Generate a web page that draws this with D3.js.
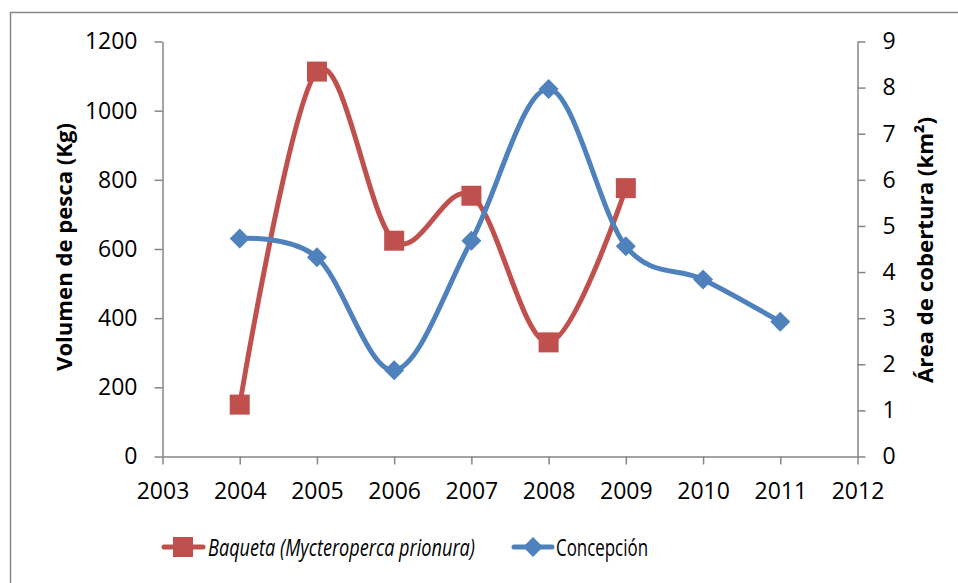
<!DOCTYPE html>
<html>
<head>
<meta charset="utf-8">
<script src="https://cdn.jsdelivr.net/npm/d3@7"></script>
<style>
  body { margin: 0; background: #fff; }
  svg text { font-family: "Open Sans", "Noto Sans", sans-serif; fill: #000; }
</style>
</head>
<body>
<div id="chart"></div>
<script>
// data
const years = [2004, 2005, 2006, 2007, 2008, 2009, 2010, 2011];
const baqueta = [150, 1113, 624, 754, 330, 776, null, null];       // Kg, left axis
const concepcion = [4.73, 4.32, 1.87, 4.68, 7.97, 4.56, 3.84, 2.92]; // km2, right axis
const xTicks = [2003, 2004, 2005, 2006, 2007, 2008, 2009, 2010, 2011, 2012];
const leftTicks = [0, 200, 400, 600, 800, 1000, 1200];
const rightTicks = [0, 1, 2, 3, 4, 5, 6, 7, 8, 9];
const seriesNames = ["Baqueta (Mycteroperca prionura)", "Concepción"];

const W = 958, H = 583;
const red = "#C0504D", blue = "#4F81BD", grey = "#868686";

const svg = d3.select("#chart").append("svg")
    .attr("width", W)
    .attr("height", H);

// outer chart border (runs off right / bottom edge)
svg.append("rect")
    .attr("x", 10.5).attr("y", 12.5)
    .attr("width", 960).attr("height", 600)
    .attr("fill", "none")
    .attr("stroke", grey)
    .attr("stroke-width", 1.5);

const x = d3.scaleLinear().domain([2003, 2012]).range([162.5, 857.5]);
const yL = d3.scaleLinear().domain([0, 1200]).range([456.5, 41.5]);
const yR = d3.scaleLinear().domain([0, 9]).range([456.5, 41.5]);

function styleAxis(g) {
    g.select(".domain").attr("stroke", grey).attr("stroke-width", 1.5);
    g.selectAll(".tick line").attr("stroke", grey).attr("stroke-width", 1.5);
    g.selectAll(".tick text")
        .attr("fill", "#000")
        .style("font-family", '"Open Sans", sans-serif')
        .style("font-size", "23px");
}

svg.append("g")
    .attr("transform", `translate(0, ${yL(0)})`)
    .call(d3.axisBottom(x).tickValues(xTicks).tickFormat(d3.format("d"))
        .tickSize(8).tickSizeOuter(0).tickPadding(18))
    .call(styleAxis);

svg.append("g")
    .attr("transform", `translate(${x(2003)}, 0)`)
    .call(d3.axisLeft(yL).tickValues(leftTicks).tickFormat(d3.format("d"))
        .tickSize(8).tickSizeOuter(0).tickPadding(17))
    .call(styleAxis);

svg.append("g")
    .attr("transform", `translate(${x(2012)}, 0)`)
    .call(d3.axisRight(yR).tickValues(rightTicks).tickFormat(d3.format("d"))
        .tickSize(8).tickSizeOuter(0).tickPadding(17))
    .call(styleAxis);

// axis titles (squeezed to the narrower original face)
svg.append("text")
    .attr("transform", `translate(72, 247) rotate(-90)`)
    .attr("text-anchor", "middle")
    .attr("textLength", 248)
    .attr("lengthAdjust", "spacingAndGlyphs")
    .style("font-weight", "bold")
    .style("font-size", "22px")
    .text("Volumen de pesca (Kg)");

svg.append("text")
    .attr("transform", `translate(933, 250) rotate(-90)`)
    .attr("text-anchor", "middle")
    .attr("textLength", 266)
    .attr("lengthAdjust", "spacingAndGlyphs")
    .style("font-weight", "bold")
    .style("font-size", "22px")
    .text("Área de cobertura (km²)");

// smoothed lines like the spreadsheet's
const lineL = d3.line()
    .x(d => x(d.year)).y(d => yL(d.v))
    .curve(d3.curveCardinal.tension(0));
const lineR = d3.line()
    .x(d => x(d.year)).y(d => yR(d.v))
    .curve(d3.curveCardinal.tension(0));

const redData = years.map((year, i) => ({year, v: baqueta[i]})).filter(d => d.v != null);
const blueData = years.map((year, i) => ({year, v: concepcion[i]}));

svg.append("path")
    .datum(redData)
    .attr("fill", "none")
    .attr("stroke", red)
    .attr("stroke-width", 5)
    .attr("d", lineL);

svg.selectAll("rect.sq")
    .data(redData)
    .join("rect")
    .attr("class", "sq")
    .attr("x", d => x(d.year) - 10)
    .attr("y", d => yL(d.v) - 10)
    .attr("width", 20).attr("height", 20)
    .attr("fill", red);

svg.append("path")
    .datum(blueData)
    .attr("fill", "none")
    .attr("stroke", blue)
    .attr("stroke-width", 5)
    .attr("d", lineR);

const diamond = "M0,-10L10,0L0,10L-10,0Z";
svg.selectAll("path.dm")
    .data(blueData)
    .join("path")
    .attr("class", "dm")
    .attr("transform", d => `translate(${x(d.year)}, ${yR(d.v)})`)
    .attr("d", diamond)
    .attr("fill", blue);

// legend
const legY = 547;
const leg = svg.append("g");
leg.append("line")
    .attr("x1", 164).attr("x2", 203).attr("y1", legY).attr("y2", legY)
    .attr("stroke", red).attr("stroke-width", 5).attr("stroke-linecap", "round");
leg.append("rect")
    .attr("x", 173).attr("y", legY - 10).attr("width", 20).attr("height", 20)
    .attr("fill", red);
leg.append("text")
    .attr("x", 208).attr("y", legY + 9)
    .attr("textLength", 267)
    .attr("lengthAdjust", "spacingAndGlyphs")
    .style("font-style", "italic")
    .style("font-size", "23px")
    .text(seriesNames[0]);

leg.append("line")
    .attr("x1", 514).attr("x2", 552).attr("y1", legY).attr("y2", legY)
    .attr("stroke", blue).attr("stroke-width", 5).attr("stroke-linecap", "round");
leg.append("path")
    .attr("transform", `translate(533, ${legY})`)
    .attr("d", diamond)
    .attr("fill", blue);
leg.append("text")
    .attr("x", 556).attr("y", legY + 9)
    .attr("textLength", 92)
    .attr("lengthAdjust", "spacingAndGlyphs")
    .style("font-size", "23px")
    .text(seriesNames[1]);
</script>
</body>
</html>
